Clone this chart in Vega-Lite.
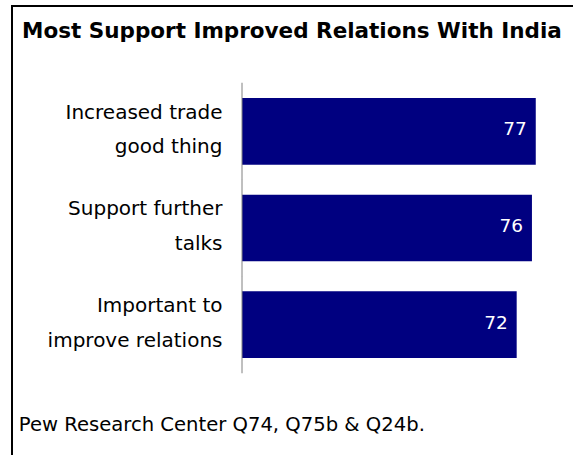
{
  "$schema": "https://vega.github.io/schema/vega-lite/v6.json",
  "autosize": {"type": "none"},
  "padding": {"left": 12, "top": 6, "right": 0, "bottom": 0},
  "width": 570,
  "height": 460,
  "background": "white",
  "title": {
    "text": "Most Support Improved Relations With India",
    "anchor": "start",
    "frame": "group",
    "orient": "top",
    "offset": -53,
    "dx": 10,
    "baseline": "alphabetic",
    "font": "DejaVu Sans",
    "fontSize": 21.5,
    "fontWeight": "bold",
    "color": "black"
  },
  "data": {
    "values": [
      {"item": "Increased trade|good thing", "value": 77},
      {"item": "Support further|talks", "value": 76},
      {"item": "Important to|improve relations", "value": 72}
    ]
  },
  "encoding": {
    "y": {
      "field": "item",
      "type": "nominal",
      "sort": null,
      "scale": {"paddingInner": 0, "paddingOuter": 0.8793, "align": 0.4529},
      "axis": {
        "title": null,
        "orient": "left",
        "offset": -230,
        "domain": false,
        "ticks": false,
        "tickSize": 0,
        "labelPadding": 20,
        "labelOffset": -18.5,
        "labelExpr": "split(datum.label, '|')",
        "labelLineHeight": 34.5,
        "labelFont": "DejaVu Sans",
        "labelFontSize": 20,
        "labelColor": "black",
        "labelAlign": "right",
        "labelBaseline": "middle",
        "labelLimit": 300
      }
    }
  },
  "layer": [
    {
      "mark": {"type": "bar", "color": "#000080", "height": {"band": 0.69}},
      "encoding": {
        "x": {
          "field": "value",
          "type": "quantitative",
          "scale": {"domain": [-60.29, 89.12], "nice": false, "zero": false},
          "axis": {
            "title": "Pew Research Center Q74, Q75b & Q24b.",
            "labels": false,
            "ticks": false,
            "domain": false,
            "grid": false,
            "titleX": 6.3,
            "titleY": -35.3,
            "titleAlign": "left",
            "titleAnchor": "start",
            "titleBaseline": "alphabetic",
            "titleFont": "DejaVu Sans",
            "titleFontSize": 19.6,
            "titleFontWeight": "normal",
            "titleColor": "black"
          }
        },
        "x2": {"datum": 0}
      }
    },
    {
      "mark": {"type": "tick", "size": 97, "thickness": 1, "color": "#808080", "opacity": 1},
      "encoding": {
        "x": {"datum": 0, "type": "quantitative"}
      }
    },
    {
      "mark": {"type": "text", "align": "right", "baseline": "middle", "dx": -9, "dy": -2, "color": "white", "font": "DejaVu Sans", "fontSize": 18.5},
      "encoding": {
        "x": {"field": "value", "type": "quantitative"},
        "text": {"field": "value", "type": "quantitative"}
      }
    }
  ],
  "config": {
    "view": {"stroke": "black", "strokeWidth": 2}
  }
}
